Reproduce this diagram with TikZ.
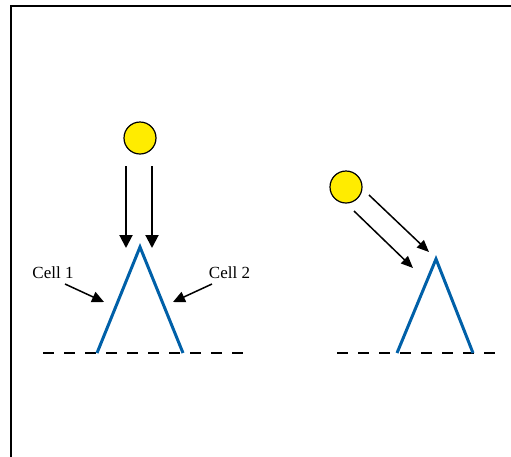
\documentclass[tikz,border=0pt]{standalone}
\usepackage{fontspec}
\setmainfont{Liberation Serif}
\usetikzlibrary{arrows.meta}
\definecolor{cellblue}{RGB}{0,96,168}
\definecolor{sunyellow}{RGB}{255,236,0}
\begin{document}
\begin{tikzpicture}[x=1pt,y=-1pt,
  sun/.style={circle,draw=black,line width=1.2pt,fill=sunyellow,minimum size=32pt,inner sep=0pt},
  cellline/.style={draw=cellblue,line width=3pt},
  ground/.style={draw=black,line width=2pt,dash pattern=on 11pt off 10pt},
  ray/.style={draw=black,line width=2pt,-{Triangle[length=13pt,width=13pt]}},
  slant/.style={draw=black,line width=1.5pt,-{Triangle[length=12pt,width=10pt]}},
  pointer/.style={draw=black,line width=1.5pt,-{Triangle[length=12pt,width=11pt]}},
  lbl/.style={font=\fontsize{17pt}{19pt}\selectfont,inner sep=0pt}]
\useasboundingbox (0,0) rectangle (511,456);
\draw[line width=1.3pt] (11,460) -- (11,6) -- (515,6);
% left scene
\node[sun] (sunA) at (140,138) {};
\coordinate (r1s) at (126,166); \coordinate (r1e) at (126,248);
\coordinate (r2s) at (152,166); \coordinate (r2e) at (152,248);
\draw[ray] (r1s) -- (r1e);
\draw[ray] (r2s) -- (r2e);
\coordinate (gA1) at (43,353); \coordinate (gA2) at (246,353);
\draw[ground] (gA1) -- (gA2);
\coordinate (tA1) at (97,353); \coordinate (tAtop) at (140,247); \coordinate (tA2) at (183,353);
\draw[cellline] (tA1) -- (tAtop) -- (tA2);
\node[lbl] (c1) at (53,273) {Cell 1};
\node[lbl] (c2) at (229.5,273) {Cell 2};
\coordinate (p1s) at (65,284); \coordinate (p1e) at (104,302);
\coordinate (p2s) at (212,284); \coordinate (p2e) at (173,302);
\draw[pointer] (p1s) -- (p1e);
\draw[pointer] (p2s) -- (p2e);
% right scene
\node[sun] (sunB) at (346,187) {};
\coordinate (s1s) at (369,195); \coordinate (s1e) at (429,252);
\coordinate (s2s) at (354,211); \coordinate (s2e) at (413,268);
\draw[slant] (s1s) -- (s1e);
\draw[slant] (s2s) -- (s2e);
\coordinate (gB1) at (337,353); \coordinate (gB2) at (502,353);
\draw[ground] (gB1) -- (gB2);
\coordinate (tB1) at (397,353); \coordinate (tBtop) at (436,259); \coordinate (tB2) at (473,353);
\draw[cellline] (tB1) -- (tBtop) -- (tB2);
\end{tikzpicture}
\end{document}
